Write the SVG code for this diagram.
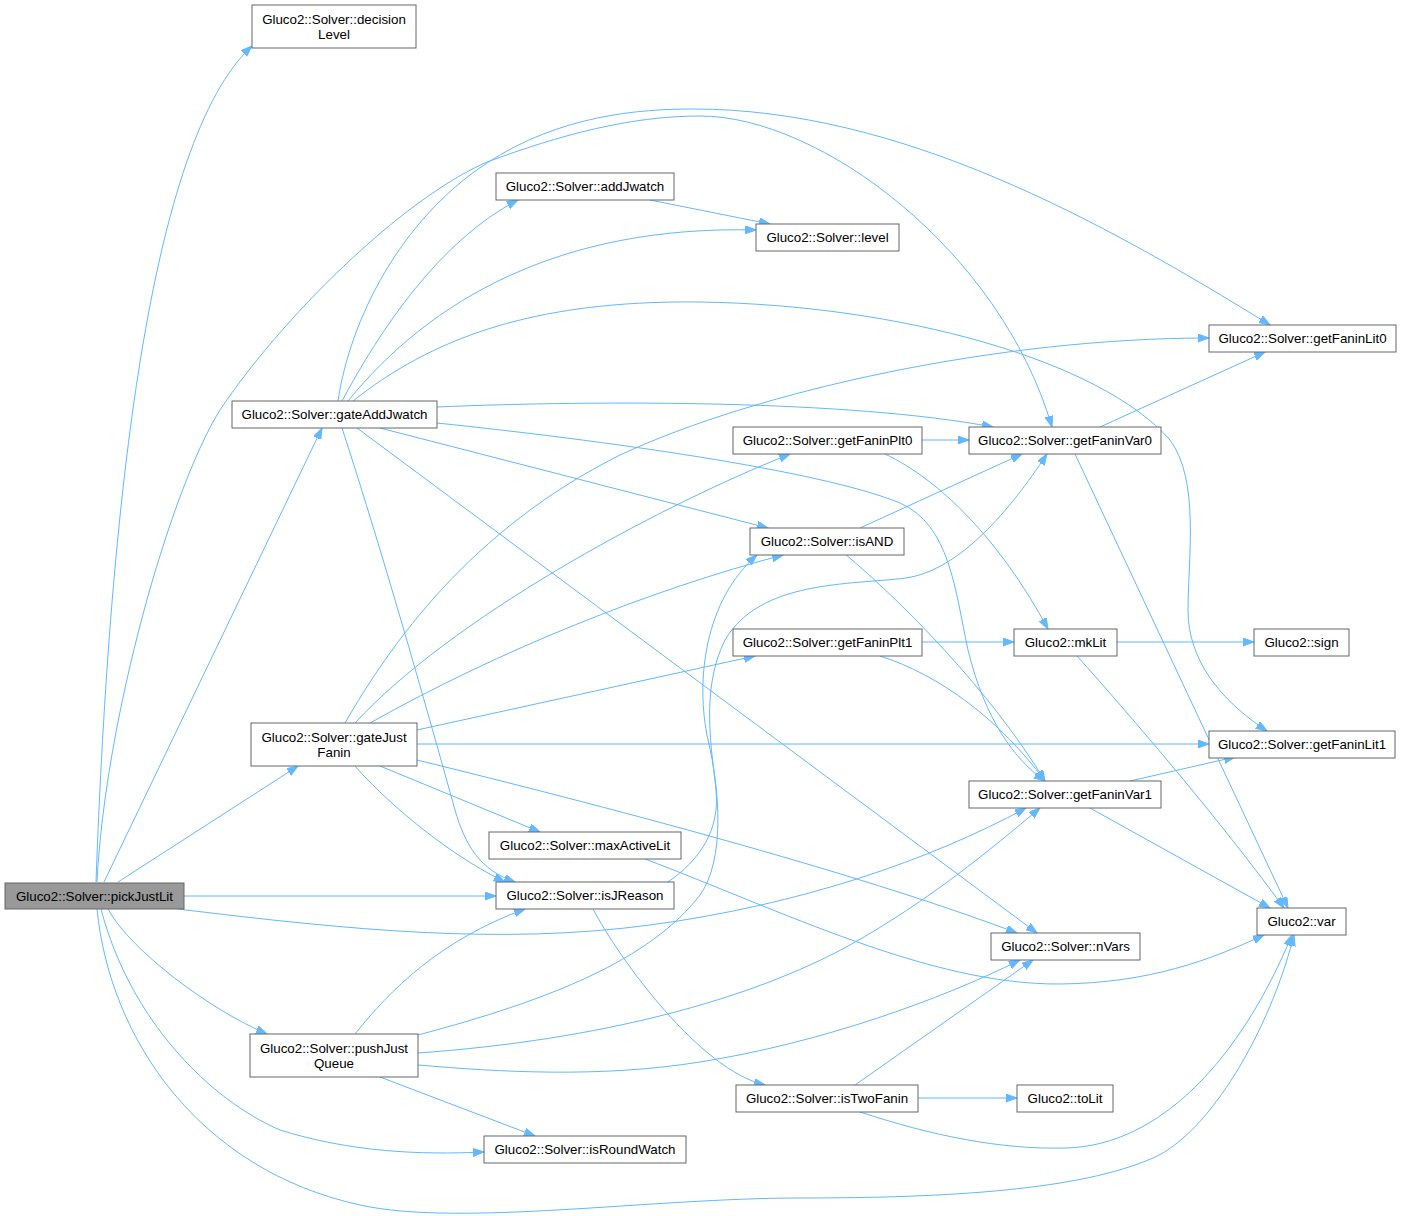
<svg xmlns="http://www.w3.org/2000/svg" width="1401" height="1216" viewBox="0 0 1401 1216">
<style>
  .n rect { fill: #ffffff; stroke: #666666; stroke-width: 1; }
  .n.root rect { fill: #999999; }
  .n text { font-family: "Liberation Sans", Arial, Helvetica, sans-serif; font-size: 13.33px; fill: #000000; text-anchor: middle; }
  .e path { fill: none; stroke: #63b8ff; stroke-width: 1; marker-end: url(#ah); }
</style>
<defs>
  <marker id="ah" markerUnits="userSpaceOnUse" markerWidth="12" markerHeight="9" refX="11" refY="4" orient="auto">
    <path d="M0,0 L11,4 L0,8 z" fill="#63b8ff" stroke="#63b8ff" stroke-width="1"/>
  </marker>
</defs>
<rect x="0" y="0" width="1401" height="1216" fill="#ffffff"/>
<g id="edges" class="e">
  <path d="M96,882 C110,500 150,140 252,46"/>
  <path d="M104,882 L322,428"/>
  <path d="M97,882 C105,720 170,490 220,410 C280,320 400,200 487,162 C560,135 630,116 700,116 C820,116 1000,250 1052,427"/>
  <path d="M118,882 L298,766"/>
  <path d="M184,896 L496,896"/>
  <path d="M178,909 C350,930 500,945 650,925 C800,905 930,860 1026,808"/>
  <path d="M108,909 C130,950 210,1010 267,1034"/>
  <path d="M101,909 C130,1020 210,1100 280,1130 C350,1152 420,1155 484,1152"/>
  <path d="M97,909 C110,1040 200,1170 360,1205 C460,1227 650,1198 800,1198 C950,1198 1080,1190 1153,1158 C1210,1133 1270,1030 1294,935"/>
  <path d="M338,401 C350,320 400,220 487,163 C560,115 640,109 693,109 C900,109 1100,220 1270,325"/>
  <path d="M342,401 C380,330 440,240 518,200"/>
  <path d="M348,401 C430,300 560,225 756,230"/>
  <path d="M353,401 C430,340 530,300 700,302 C900,305 1100,360 1170,440 C1200,480 1188,560 1188,610 C1188,660 1220,700 1267,731"/>
  <path d="M437,407 C600,400 850,400 993,427"/>
  <path d="M380,428 L768,528"/>
  <path d="M437,423 C600,440 820,470 900,503 C950,525 955,590 968,650 C985,720 1015,760 1045,781"/>
  <path d="M357,428 L1037,933"/>
  <path d="M342,428 C385,560 430,720 455,810 C465,845 480,870 515,882"/>
  <path d="M345,723 C390,645 470,530 620,455 C760,390 1000,338 1209,338"/>
  <path d="M355,723 C450,620 650,510 790,454"/>
  <path d="M370,723 C500,650 650,590 783,555"/>
  <path d="M417,730 L755,656"/>
  <path d="M417,744 L1209,744"/>
  <path d="M417,760 C600,805 850,870 1017,933"/>
  <path d="M380,766 L540,832"/>
  <path d="M355,766 C380,795 440,850 505,882"/>
  <path d="M355,1034 C390,990 440,940 525,909"/>
  <path d="M418,1035 C550,1000 650,960 700,895 C725,860 720,790 708,740 C695,680 705,600 757,555"/>
  <path d="M418,1053 C600,1040 750,1000 850,945 C930,900 990,850 1040,808"/>
  <path d="M418,1065 C500,1072 600,1078 700,1062 C820,1043 940,1000 1020,960"/>
  <path d="M380,1077 L535,1136"/>
  <path d="M668,882 C700,860 720,830 716,790 C712,750 700,690 725,640 C760,580 850,585 906,578 C960,570 1010,510 1047,454"/>
  <path d="M593,909 C620,960 700,1070 765,1085"/>
  <path d="M645,859 C780,910 930,985 1060,984 C1150,983 1210,960 1264,935"/>
  <path d="M918,1098 L1017,1098"/>
  <path d="M855,1085 L1033,960"/>
  <path d="M860,1112 C930,1135 1000,1150 1067,1148 C1160,1145 1240,1060 1292,935"/>
  <path d="M1100,427 L1265,352"/>
  <path d="M1075,454 L1288,908"/>
  <path d="M922,440 L969,440"/>
  <path d="M885,454 C940,480 1000,540 1048,629"/>
  <path d="M860,528 L1022,454"/>
  <path d="M845,554 C900,600 990,690 1045,781"/>
  <path d="M922,642 L1014,642"/>
  <path d="M880,656 C940,675 1000,720 1045,781"/>
  <path d="M1117,642 L1254,642"/>
  <path d="M1077,656 C1130,715 1220,820 1284,908"/>
  <path d="M1130,781 L1235,757"/>
  <path d="M1090,808 L1270,908"/>
  <path d="M650,200 L770,224"/>
</g>
<g id="pickJustLit" class="n root"><rect x="5" y="883" width="179" height="26"/><text x="94.5" y="900.5">Gluco2::Solver::pickJustLit</text></g>
<g id="decisionLevel" class="n"><rect x="252" y="5" width="164" height="43"/><text x="334" y="23.5">Gluco2::Solver::decision</text><text x="334" y="38.5">Level</text></g>
<g id="gateAddJwatch" class="n"><rect x="232" y="401" width="205" height="27"/><text x="334.5" y="419">Gluco2::Solver::gateAddJwatch</text></g>
<g id="gateJustFanin" class="n"><rect x="251" y="723" width="166" height="43"/><text x="334" y="741.5">Gluco2::Solver::gateJust</text><text x="334" y="756.5">Fanin</text></g>
<g id="pushJustQueue" class="n"><rect x="250" y="1034" width="168" height="43"/><text x="334" y="1052.5">Gluco2::Solver::pushJust</text><text x="334" y="1067.5">Queue</text></g>
<g id="addJwatch" class="n"><rect x="496" y="173" width="178" height="27"/><text x="585" y="191">Gluco2::Solver::addJwatch</text></g>
<g id="level" class="n"><rect x="756" y="224" width="143" height="27"/><text x="827.5" y="242">Gluco2::Solver::level</text></g>
<g id="getFaninLit0" class="n"><rect x="1209" y="325" width="187" height="27"/><text x="1302.5" y="343">Gluco2::Solver::getFaninLit0</text></g>
<g id="getFaninPlt0" class="n"><rect x="733" y="427" width="189" height="27"/><text x="827.5" y="445">Gluco2::Solver::getFaninPlt0</text></g>
<g id="getFaninVar0" class="n"><rect x="969" y="427" width="192" height="27"/><text x="1065" y="445">Gluco2::Solver::getFaninVar0</text></g>
<g id="isAND" class="n"><rect x="750" y="528" width="154" height="27"/><text x="827" y="546">Gluco2::Solver::isAND</text></g>
<g id="getFaninPlt1" class="n"><rect x="733" y="629" width="189" height="27"/><text x="827.5" y="647">Gluco2::Solver::getFaninPlt1</text></g>
<g id="mkLit" class="n"><rect x="1014" y="629" width="103" height="27"/><text x="1065.5" y="647">Gluco2::mkLit</text></g>
<g id="sign" class="n"><rect x="1254" y="629" width="95" height="27"/><text x="1301.5" y="647">Gluco2::sign</text></g>
<g id="getFaninLit1" class="n"><rect x="1209" y="731" width="186" height="27"/><text x="1302" y="749">Gluco2::Solver::getFaninLit1</text></g>
<g id="getFaninVar1" class="n"><rect x="969" y="781" width="192" height="27"/><text x="1065" y="799">Gluco2::Solver::getFaninVar1</text></g>
<g id="maxActiveLit" class="n"><rect x="489" y="832" width="192" height="27"/><text x="585" y="850">Gluco2::Solver::maxActiveLit</text></g>
<g id="isJReason" class="n"><rect x="496" y="882" width="178" height="27"/><text x="585" y="900">Gluco2::Solver::isJReason</text></g>
<g id="var" class="n"><rect x="1257" y="908" width="89" height="27"/><text x="1301.5" y="926">Gluco2::var</text></g>
<g id="nVars" class="n"><rect x="991" y="933" width="149" height="27"/><text x="1065.5" y="951">Gluco2::Solver::nVars</text></g>
<g id="isTwoFanin" class="n"><rect x="736" y="1085" width="182" height="27"/><text x="827" y="1103">Gluco2::Solver::isTwoFanin</text></g>
<g id="toLit" class="n"><rect x="1017" y="1085" width="96" height="27"/><text x="1065" y="1103">Gluco2::toLit</text></g>
<g id="isRoundWatch" class="n"><rect x="484" y="1136" width="202" height="27"/><text x="585" y="1154">Gluco2::Solver::isRoundWatch</text></g>
</svg>
